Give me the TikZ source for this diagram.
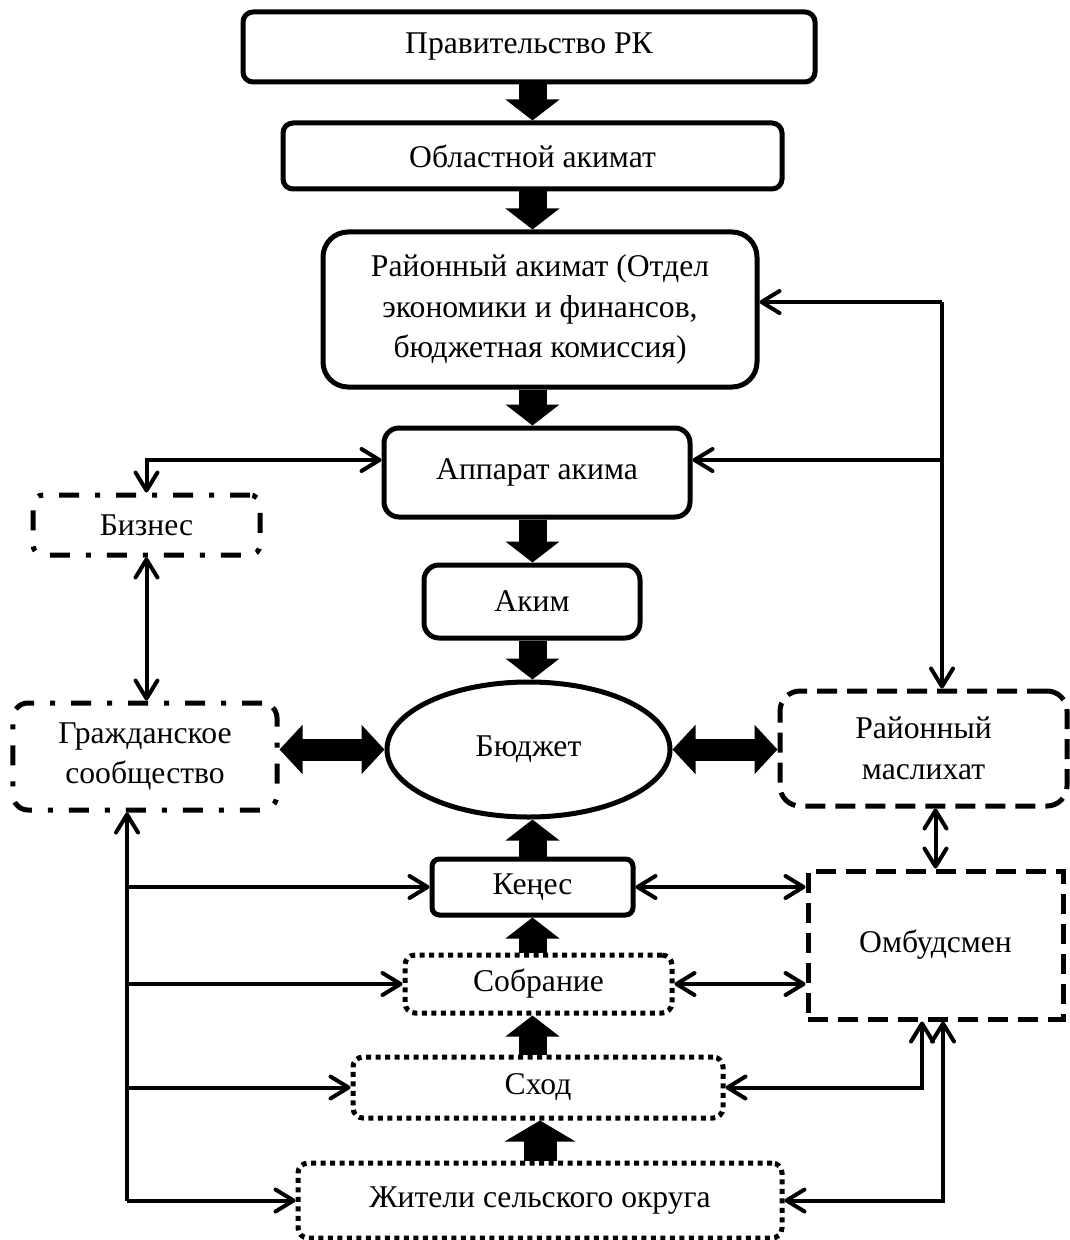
\documentclass[tikz,border=0pt]{standalone}
\usepackage{fontspec}
\setmainfont{Liberation Serif}
\usetikzlibrary{arrows.meta,shapes.geometric}

\begin{document}
\begin{tikzpicture}[
font=\fontsize{18}{23}\selectfont,
box/.style={draw=black, line width=1mm, rounded corners=2mm, align=center, inner sep=0pt},
oval/.style={ellipse, draw=black, line width=1mm, inner sep=0pt},
dashbox/.style={box, dash pattern=on 4mm off 2mm},
dashdotbox/.style={box, dash pattern=on 4mm off 3.2mm on 1mm off 3.2mm},
dotbox/.style={box, dash pattern=on 1mm off 0.9mm},
link/.style={line width=0.8mm},
flow/.style={line width=5.6mm, -{Triangle[length=4.2mm,width=10.6mm]}},
flowtwo/.style={line width=4.4mm, {Triangle[length=4.6mm,width=9.6mm]}-{Triangle[length=4.6mm,width=9.6mm]}},
>={Straight Barb[round,length=3.6mm,width=4.4mm]},
]
\useasboundingbox (0,0) rectangle (21.38,-24.8);

%Top chain
\node[box, minimum width=11.44cm, minimum height=1.4cm] (gov) at (10.58,-0.94) {Правительство РК};
\node[box, minimum width=9.98cm, minimum height=1.32cm] (oblast) at (10.65,-3.12) {Областной акимат};
\node[box, rounded corners=5mm, minimum width=8.68cm, minimum height=3.1cm] (rayon) at (10.8,-6.19) {Районный акимат (Отдел\\экономики и финансов,\\бюджетная комиссия)};
\node[box, rounded corners=3mm, minimum width=6.12cm, minimum height=1.78cm] (apparat) at (10.74,-9.45) {Аппарат акима};
\node[box, rounded corners=3mm, minimum width=4.32cm, minimum height=1.46cm] (akim) at (10.64,-12.03) {Аким};
\node[oval, minimum width=5.66cm, minimum height=2.7cm] (budget) at (10.57,-14.99) {Бюджет};

%Side boxes
\node[dashdotbox, minimum width=4.54cm, minimum height=1.2cm] (biz) at (2.93,-10.5) {Бизнес};
\node[dashdotbox, rounded corners=3mm, minimum width=5.28cm, minimum height=2.14cm] (civil) at (2.9,-15.13) {Гражданское\\сообщество};
\node[dashbox, rounded corners=4mm, minimum width=5.74cm, minimum height=2.3cm] (masl) at (18.47,-14.97) {Районный\\маслихат};
\node[dashbox, rounded corners=0pt, minimum width=5.1cm, minimum height=2.96cm] (ombud) at (18.71,-18.9) {Омбудсмен};

%Bottom chain
\node[box, rounded corners=1.5mm, minimum width=4.02cm, minimum height=1.12cm] (kenes) at (10.65,-17.74) {Кеңес};
\node[dotbox, minimum width=5.34cm, minimum height=1.16cm] (sobr) at (10.77,-19.68) {Собрание};
\node[dotbox, minimum width=7.4cm, minimum height=1.22cm] (skhod) at (10.76,-21.75) {Сход};
\node[dotbox, minimum width=9.68cm, minimum height=1.5cm] (zhit) at (10.8,-24.01) {Жители сельского округа};

%Thick arrows
\coordinate (axis) at (10.65,0);
\draw[flow] (gov.south -| axis) -- (oblast.north -| axis);
\draw[flow] (oblast.south -| axis) -- (rayon.north -| axis);
\draw[flow] (rayon.south -| axis) -- (apparat.north -| axis);
\draw[flow] (apparat.south -| axis) -- (akim.north -| axis);
\draw[flow] (akim.south -| axis) -- (budget.north -| axis);
\draw[flow] (kenes.north -| axis) -- (budget.south -| axis);
\draw[flow] (sobr.north -| axis) -- (kenes.south -| axis);
\draw[flow] (skhod.north -| axis) -- (sobr.south -| axis);
\draw[flow, line width=6.6mm, -{Triangle[length=4.2mm,width=14mm]}] (zhit.north) -- (zhit.north |- skhod.south);
\draw[flowtwo] (civil.east |- budget.west) -- (budget.west);
\draw[flowtwo] (budget.east) -- (budget.east -| masl.west);

%Right links
\coordinate (rbus) at (18.84,-6.04);
\coordinate (app) at ([yshift=2.5mm]apparat.east);
\coordinate (appw) at ([yshift=2.5mm]apparat.west);
\draw[link, ->] (rbus) -- (rbus -| rayon.east);
\draw[link, ->] (rbus) -- (rbus |- masl.north);
\draw[link, ->] (app -| rbus) -- (app);
\draw[link, <->] (ombud.north |- masl.south) -- (ombud.north);
\draw[link, <->] (kenes.east) -- (kenes.east -| ombud.west);
\draw[link, <->] (sobr.east) -- (sobr.east -| ombud.west);
\draw[link, <->] ([xshift=-2.7mm]ombud.south) |- (skhod.east);
\draw[link, <->] ([xshift=1.5mm]ombud.south) |- (zhit.east);

%Left links
\coordinate (lbus) at (2.54,0);
\draw[link, <->] (appw) -| (biz.north);
\draw[link, <->] (biz.south) -- (biz.south |- civil.north);
\draw[link, ->] (lbus |- zhit.west) -- (lbus |- civil.south);
\draw[link, ->] (lbus |- kenes.west) -- (kenes.west);
\draw[link, ->] (lbus |- sobr.west) -- (sobr.west);
\draw[link, ->] (lbus |- skhod.west) -- (skhod.west);
\draw[link, ->] (lbus |- zhit.west) -- (zhit.west);
\end{tikzpicture}
\end{document}
